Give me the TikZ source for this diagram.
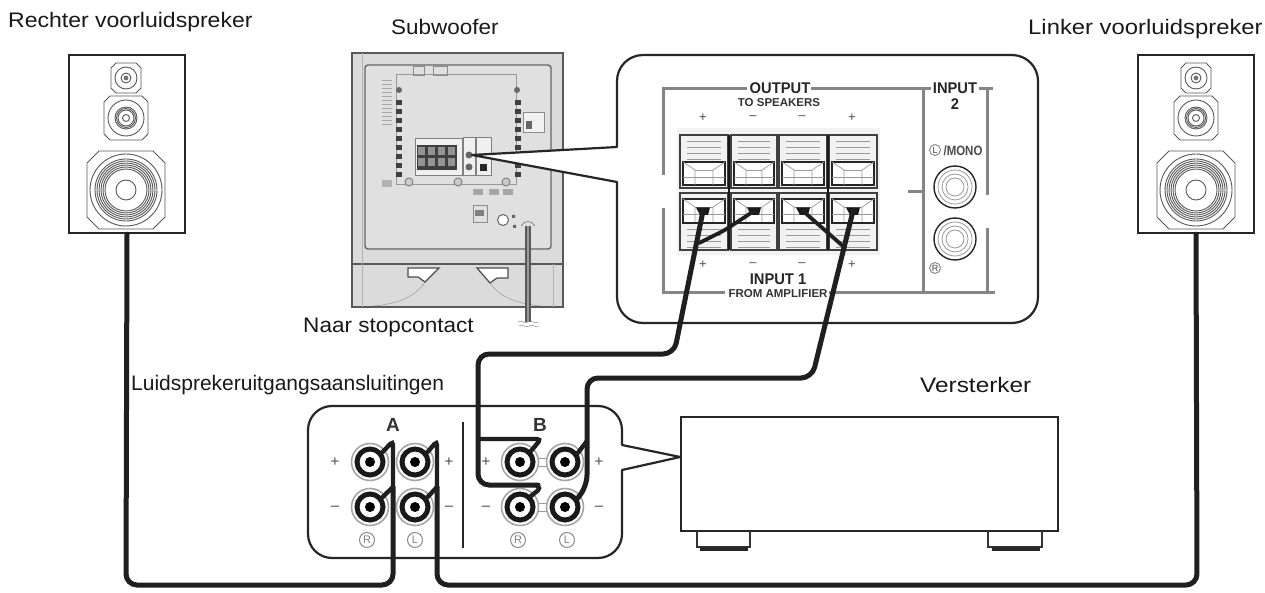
\documentclass[tikz,border=0pt]{standalone}
\usepackage{fontspec}
\setmainfont{Liberation Sans}
\newcommand{\octagon}[4]{% cx cy half cut
  \draw[spkline] ({#1-#3+#4},{#2-#3}) -- ({#1+#3-#4},{#2-#3}) -- ({#1+#3},{#2-#3+#4}) -- ({#1+#3},{#2+#3-#4}) -- ({#1+#3-#4},{#2+#3}) -- ({#1-#3+#4},{#2+#3}) -- ({#1-#3},{#2+#3-#4}) -- ({#1-#3},{#2-#3+#4}) -- cycle;}
\newcommand{\driverset}[1]{%
  \octagon{#1}{78}{15}{5}
  \foreach \r in {11,5}{\draw[spkline] (#1,78) circle[radius=\r];}
  \fill[gray!90!black] (#1,78) circle[radius=2.4];
  \octagon{#1}{118}{22}{6}
  \draw[spkline] (#1,118) circle[radius=18];
  \foreach \r in {11,9.5,8}{\draw[spkline] (#1,118) circle[radius=\r];}
  \draw[spkline] (#1,118) circle[radius=3.5];
  \octagon{#1}{190}{39}{12}
  \foreach \r in {36,31,29,27,25,23,21}{\draw[spkline] (#1,190) circle[radius=\r];}
  \draw[spkline] (#1,190) circle[radius=10];}
\newcommand{\jackset}[3]{%
  \node[jackouter] at (#1,#2) {};
  \node[jackring] (#3) at (#1,#2) {};
  \fill[black] (#1,#2) circle[radius=5];}
\tikzset{
  x=1pt,y=-1pt,
  spkline/.style={draw=black!65,line width=0.9pt},
  spkbox/.style={draw=black!85,line width=2.4pt,fill=white,minimum width=116pt,minimum height=178pt,inner sep=0pt},
  cable/.style={draw=black!88,line width=5pt,rounded corners=11pt,line cap=round},
  branch/.style={draw=black!88,line width=4.4pt,rounded corners=4pt,line cap=round},
  outlinebox/.style={draw=black!85,line width=2.2pt,fill=white,line join=round},
  label/.style={font=\fontsize{21}{23}\selectfont,text=black!90,inner sep=0pt},
  graybar/.style={draw=black!48,line width=3pt},
  cellline/.style={draw=black!75,line width=1.2pt},
  jackouter/.style={circle,draw=black!35,line width=1.6pt,minimum size=37pt,inner sep=0pt,fill=white},
  jackring/.style={circle,draw=black!90,line width=5pt,minimum size=26pt,inner sep=0pt},
  sign/.style={font=\fontsize{13}{13}\selectfont,text=black!70,inner sep=0pt},
  tiny/.style={circle,draw=black!45,line width=1pt,minimum size=15pt,inner sep=0pt,font=\fontsize{11}{11}\selectfont,text=black!50},
  subedge/.style={draw=black!65,line width=1pt},
  plug/.style={fill=black!90},
  headbig/.style={font=\fontsize{15.5}{16}\bfseries\selectfont,xscale=.95,text=black!85,inner sep=0pt},
  headsmall/.style={font=\fontsize{11.5}{12}\bfseries\selectfont,xscale=1,text=black!80,inner sep=0pt},
}
\begin{document}
\begin{tikzpicture}
\useasboundingbox (0,0) rectangle (1265,593);
\fill[white] (0,0) rectangle (1265,593);
% labels
\node[label,anchor=west,xscale=1.096] (t1) at (8,22) {Rechter voorluidspreker};
\node[label,anchor=west,xscale=1.07] (t2) at (391,27) {Subwoofer};
\node[label,anchor=west,xscale=1.135] (t3) at (1028,29) {Linker voorluidspreker};
\node[label,anchor=west,xscale=1.074] (t4) at (303,327) {Naar stopcontact};
\node[label,anchor=west,xscale=1.0] (t5) at (131,385) {Luidsprekeruitgangsaansluitingen};
\node[label,anchor=west,xscale=1.16] (t6) at (920,385) {Versterker};
% speakers
\node[spkbox] (rspk) at (127,144) {};
\driverset{126}
\node[spkbox] (lspk) at (1196,144) {};
\driverset{1196}
% subwoofer
\fill[black!14] (352,53) rectangle (563,307);
\draw[subedge,line width=1.5pt] (352,53) rectangle (563,307);
\draw[subedge,line width=1.4pt] (352,264) -- (563,264);
\draw[black!30] (362,53) -- (362,307) (553,264) -- (553,307);
\draw[black!60,line width=1.4pt,rounded corners=3pt,fill=black!12] (365,65) rectangle (551,249);
\draw[black!40,line width=1pt] (396,75) -- (516,75) -- (516,185) -- (396,185) -- cycle;
\foreach \yy in {100,109,...,172}{\fill[black!75] (396,\yy) rectangle (402,{\yy+5}); \fill[black!75] (515,\yy) rectangle (521,{\yy+5});}
\fill[black!60] (399,90) circle[radius=3]; \fill[black!60] (517,90) circle[radius=3];
\foreach \yy in {80,84,...,124}{\draw[black!35] (382,\yy) -- (392,\yy);}
\draw[black!45] (413,66) rectangle (424,75) (433,66) rectangle (447,75);
\draw[black!45,fill=black!5] (523,112) rectangle (544,132);
\fill[black!60] (526,121) rectangle (532,129);
\draw[black!50,line width=.8pt,fill=black!6] (415,138) rectangle (462,175);
\fill[black!75] (417,145) rectangle (457,170);
\foreach \xx in {418,428,438,448}{\foreach \yy in {147,158}{\fill[black!42] (\xx,\yy) rectangle ({\xx+7},{\yy+8});}}
\draw[black!50,fill=black!6] (463,137) rectangle (475,175);
\fill[black!60] (469,155) circle[radius=3.5] (469,167) circle[radius=3.5];
\draw[black!50,fill=black!6] (476,137) rectangle (491,175);
\fill[black!85] (480,164) rectangle (487,171);
\foreach \xx in {409,458,506}{\draw[black!50,fill=black!20,line width=1pt] (\xx,182) circle[radius=4];}
\foreach \xx in {473,489,503}{\fill[black!35] (\xx,189) rectangle ({\xx+10},195);}
\fill[black!30] (382,180) rectangle (392,187);
\draw[black!45] (473,205) rectangle (487,222);
\fill[black!50] (475,210) rectangle (484,216);
\draw[black!60,fill=white,line width=1pt] (503,220) circle[radius=5.5];
\fill[black!60] (512,215) rectangle (515,218) (513,225) rectangle (516,228);
% feet cut-outs
\draw[black!70,fill=white,line width=1.2pt] (408,268) -- (439,268) -- (425,282) -- (418,277) -- (408,277) -- cycle;
\draw[black!70,fill=white,line width=1.2pt] (477,268) -- (508,268) -- (508,278) -- (497,278) -- (490,283) -- cycle;
\draw[black!45] (425,282) .. controls (415,298) and (395,304) .. (374,306);
\draw[black!45] (490,283) .. controls (500,298) and (520,304) .. (541,306);
% mains cord
\draw[black!70] (521,226) .. controls (524,220) and (532,220) .. (535,226);
\draw[black!65,line width=5.5pt] (528,226) -- (528,322);
\draw[black!40,line width=2.5pt] (528,226) -- (528,322);
\draw[black!50] (518,322) .. controls (522,319) and (524,325) .. (528,322) .. controls (532,319) and (534,325) .. (538,322);
\draw[black!50] (519,326) .. controls (523,323) and (525,329) .. (529,326) .. controls (533,323) and (535,329) .. (539,326);
% callout 1
\draw[outlinebox] (472,155) [sharp corners] -- (617,147) [rounded corners=26pt] -- (617,55) -- (1038,55) -- (1038,323) -- (617,323) [sharp corners] -- (617,182) -- cycle;
% frame lines
\draw[graybar] (663,175) -- (663,89) -- (747,89);
\draw[graybar] (811,89) -- (931,89);
\draw[graybar] (979,89) -- (993,89);
\draw[graybar] (663,208) -- (663,293) -- (725,293);
\draw[graybar] (829,293) -- (995,293);
\draw[graybar] (923,89) -- (923,293);
\draw[graybar] (908,192) -- (923,192);
\draw[graybar] (987,89) -- (987,195) (987,228) -- (987,293);
\node[headbig] (h1) at (780,88) {OUTPUT};
\node[headsmall] (h2) at (779,103) {TO SPEAKERS};
\node[headbig] (h3) at (955,88) {INPUT};
\node[headbig] (h4) at (955,104) {2};
\node[headbig] (h5) at (778,279) {INPUT 1};
\node[headsmall] (h6) at (778,294) {FROM AMPLIFIER};
\node[sign] (p1) at (703,118) {+};
\node[sign] (p2) at (753,118) {--};
\node[sign] (p3) at (802,118) {--};
\node[sign] (p4) at (852,118) {+};
\node[sign] (p5) at (703,265) {+};
\node[sign] (p6) at (753,265) {--};
\node[sign] (p7) at (802,265) {--};
\node[sign] (p8) at (852,265) {+};
% terminal block
\fill[black!5] (677,128) rectangle (880,255);
\foreach \xa/\xb in {680/728,731/777,779/827,829/877}{
  \draw[cellline] (\xa,135) rectangle (\xb,188);
  \draw[cellline] (\xa,193) rectangle (\xb,250);
  \foreach \yy in {141,147,153,159}{\draw[black!40,line width=.8pt] ({\xa+7},\yy) -- ({\xb-7},\yy);}
  \foreach \yy in {229,235,241,247}{\draw[black!40,line width=.8pt] ({\xa+7},\yy) -- ({\xb-7},\yy);}
  \draw[black!85,line width=1.3pt,fill=white] ({\xa+3},162) rectangle ({\xb-3},185);
  \draw[black!85,line width=1.3pt,fill=white] ({\xa+3},199) rectangle ({\xb-3},223);
  \foreach \yc in {162,199}{
    \draw[black!40,line width=.7pt] ({\xa+3},\yc) -- ({\xa+15},{\yc+8}) -- ({\xa+15},{\yc+23});
    \draw[black!40,line width=.7pt] ({\xb-3},\yc) -- ({\xb-15},{\yc+8}) -- ({\xb-15},{\yc+23});
    \draw[black!40,line width=.7pt] ({\xa+15},{\yc+8}) -- ({\xb-15},{\yc+8});
    \draw[black!40,line width=.7pt] ({\xa+3},{\yc+15}) -- ({\xb-3},{\yc+15});
  }
}
\draw[black!90,line width=1.8pt] (729,135) -- (729,250) (828,135) -- (828,250);
% RCA inputs
\node[font=\fontsize{13.5}{14}\bfseries\selectfont,xscale=.85,text=black!70,inner sep=0pt] (mono) at (963,151) {/MONO};
\node[tiny,minimum size=11pt,font=\fontsize{9}{9}\selectfont,text=black!75] (lc) at (935,150) {L};
\node[tiny,minimum size=11pt,font=\fontsize{9}{9}\selectfont,text=black!75] (rc) at (935,268) {R};
\foreach \yy in {187,239}{
  \draw[black!85,line width=1.4pt,fill=white] (955,\yy) circle[radius=21];
  \draw[black!40,line width=.8pt] (955,\yy) circle[radius=17];
  \draw[black!40,line width=.8pt] (955,\yy) circle[radius=13];
  \draw[black!40,line width=.8pt] (955,\yy) circle[radius=9];
}
% amplifier
\node[draw=black!85,line width=1.7pt,fill=white,minimum width=377pt,minimum height=114pt,inner sep=0pt] (amp) at (869.5,474) {};
\draw[black!80,line width=1.4pt] (697,531) -- (697,547) -- (750,547) -- (750,531);
\draw[black!80,line width=1.4pt] (988,531) -- (988,547) -- (1042,547) -- (1042,531);
\fill[black!85] (700,547) rectangle (748,550.5);
\fill[black!85] (992,547) rectangle (1040,550.5);
% callout 2
\coordinate (amptip) at (amp.west |- 0,457);
\draw[outlinebox] (amptip) [sharp corners] -- (622,470) [rounded corners=24pt] -- (622,558) -- (308,558) -- (308,406) -- (622,406) [sharp corners] -- (622,445) -- cycle;
\draw[black!85,line width=2pt] (463,422) -- (463,548);
\node[font=\fontsize{19}{19}\bfseries\selectfont,text=black!80,inner sep=0pt] (la) at (393,425) {A};
\node[font=\fontsize{19}{19}\bfseries\selectfont,text=black!80,inner sep=0pt] (lb) at (540,425) {B};
% jacks
\draw[black!40,line width=1pt] (520,458) -- (565,458) (520,466) -- (565,466) (520,503) -- (565,503) (520,511) -- (565,511);
\jackset{370}{462}{jar}
\jackset{415}{462}{jal}
\jackset{370}{507}{jbr}
\jackset{415}{507}{jbl}
\jackset{520}{462}{kar}
\jackset{565}{462}{kal}
\jackset{520}{507}{kbr}
\jackset{565}{507}{kbl}
\foreach \xx/\yy/\ss/\nn in {335/462/+/s1,449/462/+/s2,335/508/--/s3,449/508/--/s4,486/462/+/s5,599/462/+/s6,486/508/--/s7,599/508/--/s8}{
  \node[sign,font=\fontsize{15}{15}\selectfont] (\nn) at (\xx,\yy) {\ss};}
\node[tiny] (c1) at (367,540) {R};
\node[tiny] (c2) at (415,540) {L};
\node[tiny] (c3) at (518,540) {R};
\node[tiny] (c4) at (567,540) {L};
% plugs
\coordinate (t1p) at (703,211);
\coordinate (t2p) at (754,211);
\coordinate (t3p) at (803,211);
\coordinate (t4p) at (853,211);
\foreach \pp in {t1p,t2p,t3p,t4p}{\fill[plug] ([xshift=-7pt,yshift=3.5pt]\pp) -- ([xshift=7pt,yshift=3.5pt]\pp) -- ([xshift=5pt,yshift=-4pt]\pp) -- ([xshift=-3pt,yshift=-4pt]\pp) -- cycle;}
% cables
\draw[cable] (rspk.south) -- (126,585) -- (393,585) -- (393,487);
\draw[branch] (393,487) -- (393,441) -- (jar.38);
\draw[branch] (393,487) -- (jbr.38);
\draw[cable] (lspk.south) -- (1197,585) -- (437,585) -- (437,487);
\draw[branch] (437,487) -- (437,441) -- (jal.38);
\draw[branch] (437,487) -- (jbl.38);
\draw[cable] (t1p) -- (674,354) -- (478,354) -- (478,485) -- (538,485);
\draw[branch] (536,485) -- (541,488) -- (kbr.45);
\draw[branch] (478,439) -- (541,439) -- (kar.45);
\draw[cable] (t4p) -- (812,378) -- (587,378) -- (587,486) -- (kbl.35);
\draw[branch] (587,441) -- (kal.35);
\draw[branch,line width=3.8pt] (t2p) -- (725,230) -- (699,243);
\draw[branch,line width=3.8pt] (t3p) -- (844,247);
\end{tikzpicture}
\end{document}
